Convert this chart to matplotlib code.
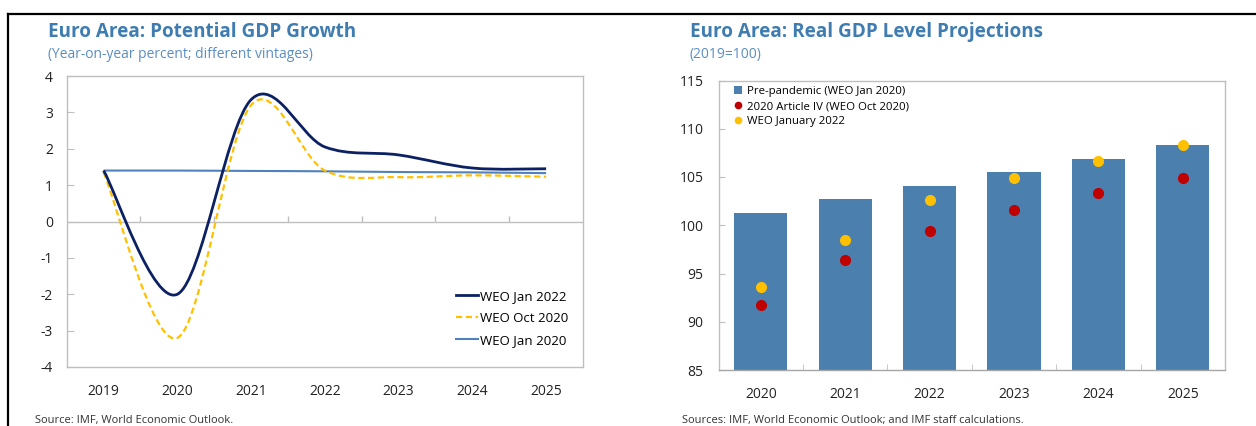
import numpy as np
import matplotlib
matplotlib.use('Agg')
import matplotlib.pyplot as plt
from matplotlib.path import Path
from matplotlib.patches import PathPatch, Patch
from matplotlib.lines import Line2D

plt.rcParams['font.family'] = ['Open Sans', 'DejaVu Sans']
plt.rcParams['axes.unicode_minus'] = False

# Left panel: potential GDP growth, annual values by vintage
growth_years = [2019, 2020, 2021, 2022, 2023, 2024, 2025]
weo_jan_2022 = [1.4, -2.0, 3.35, 2.05, 1.83, 1.47, 1.45]
weo_oct_2020 = [1.35, -3.2, 3.2, 1.4, 1.22, 1.27, 1.23]
weo_jan_2020 = [1.4, 1.4, 1.39, 1.38, 1.36, 1.35, 1.33]

# Right panel: real GDP level (2019=100)
level_years = [2020, 2021, 2022, 2023, 2024, 2025]
pre_pandemic = [101.3, 102.7, 104.1, 105.5, 106.9, 108.3]
article_iv_2020 = [91.7, 96.4, 99.4, 101.6, 103.35, 104.85]
weo_jan_2022_level = [93.6, 98.5, 102.6, 104.9, 106.7, 108.3]

TITLE_C = '#3E7CB1'
SUB_C = '#5A8DC2'
FRAME_C = '#BFBFBF'
NAVY = '#0B2163'
GOLD = '#FFC000'
BLUE = '#4F81BD'
BAR_C = '#4A7FAE'
RED = '#C00000'


def smooth_path(x, y):
    """Excel-style smoothed line as cubic Bezier segments through the data."""
    n = len(x)
    verts = [(x[0], y[0])]
    codes = [Path.MOVETO]
    for i in range(n - 1):
        a = i - 1 if i > 0 else i
        d = i + 2 if i + 2 < n else i + 1
        c1 = (x[i] + (x[i + 1] - x[a]) / 6, y[i] + (y[i + 1] - y[a]) / 6)
        c2 = (x[i + 1] - (x[d] - x[i]) / 6, y[i + 1] - (y[d] - y[i]) / 6)
        verts += [c1, c2, (x[i + 1], y[i + 1])]
        codes += [Path.CURVE4] * 3
    return Path(verts, codes)


fig = plt.figure(figsize=(12.56, 4.26), dpi=100)
W, H = 1256, 426

# outer frame lines
fig.add_artist(Line2D([8 / W, 1], [1 - 13.5 / H, 1 - 13.5 / H], color='black', lw=1.6, transform=fig.transFigure))
fig.add_artist(Line2D([8 / W, 8 / W], [0, 1 - 13.5 / H], color='black', lw=1.6, transform=fig.transFigure))

# ---------------- left panel ----------------
ax1 = fig.add_axes([66.7 / W, 1 - 367 / H, (583 - 66.7) / W, (367 - 76) / H])
xs = np.arange(len(growth_years))
styles = [
    (weo_jan_2022, NAVY, '-', 2.0, 'WEO Jan 2022'),
    (weo_oct_2020, GOLD, (0, (2.8, 1.6)), 1.6, 'WEO Oct 2020'),
    (weo_jan_2020, BLUE, '-', 1.5, 'WEO Jan 2020'),
]
handles = []
for vals, col, ls, lw, lab in styles[::-1]:
    ax1.add_patch(PathPatch(smooth_path(xs, vals), fill=False, edgecolor=col, lw=lw, linestyle=ls,
                            capstyle='butt', joinstyle='round'))
for vals, col, ls, lw, lab in styles:
    handles.append(Line2D([], [], color=col, lw=lw, linestyle=ls, label=lab))

ax1.axhline(0, color=FRAME_C, lw=1, zorder=0)
ax1.vlines(np.arange(len(growth_years) - 1) + 0.5, 0, 0.15, color=FRAME_C, lw=1, zorder=0)
ax1.set_xlim(-0.5, len(growth_years) - 0.5)
ax1.set_ylim(-4, 4)
ax1.set_yticks(range(-4, 5))
ax1.set_xticks(xs)
ax1.set_xticklabels([str(y) for y in growth_years])
ax1.tick_params(axis='x', length=0, pad=12, labelsize=10, labelcolor='#222222')
ax1.tick_params(axis='y', direction='in', length=5, color=FRAME_C, pad=10, labelsize=10, labelcolor='#222222')
for s in ax1.spines.values():
    s.set_color(FRAME_C)
    s.set_linewidth(1)
ax1.legend(handles=handles, loc='upper left', bbox_to_anchor=(0.754, 0.266), frameon=False,
           fontsize=9.5, handlelength=1.7, handletextpad=0.15, borderpad=0, borderaxespad=0,
           labelspacing=0.7)

fig.text(48 / W, 1 - 37 / H, 'Euro Area: Potential GDP Growth', fontsize=13.6, fontweight='bold',
         color=TITLE_C, va='baseline')
fig.text(48 / W, 1 - 58 / H, '(Year-on-year percent; different vintages)', fontsize=10,
         color=SUB_C, va='baseline')
fig.text(35 / W, 1 - 423 / H, 'Source: IMF, World Economic Outlook.', fontsize=8,
         color='#333333', va='baseline')

# ---------------- right panel ----------------
ax2 = fig.add_axes([718.6 / W, 1 - 370 / H, (1225 - 718.6) / W, (370 - 80.5) / H])
xb = np.arange(len(level_years))
ax2.bar(xb, pre_pandemic, width=0.63, color=BAR_C, zorder=2, label='Pre-pandemic (WEO Jan 2020)')
ax2.plot(xb, article_iv_2020, 'o', color=RED, markersize=8, markeredgewidth=0, zorder=3)
ax2.plot(xb, weo_jan_2022_level, 'o', color=GOLD, markersize=8, markeredgewidth=0, zorder=3)
ax2.set_xlim(-0.5, len(level_years) - 0.5)
ax2.set_ylim(85, 115)
ax2.set_yticks(range(85, 116, 5))
ax2.set_xticks(xb)
ax2.set_xticklabels([str(y) for y in level_years])
ax2.set_xticks(np.arange(len(level_years) - 1) + 0.5, minor=True)
ax2.tick_params(axis='x', which='major', length=0, pad=12, labelsize=10, labelcolor='#222222')
ax2.tick_params(axis='x', which='minor', direction='in', length=4, color=FRAME_C)
ax2.tick_params(axis='y', direction='in', length=4, color=FRAME_C, pad=11, labelsize=10, labelcolor='#222222')
for s in ax2.spines.values():
    s.set_color(FRAME_C)
    s.set_linewidth(1)
ax2.spines['bottom'].set_color('#A6A6A6')

h2 = [Patch(facecolor=BAR_C, label='Pre-pandemic (WEO Jan 2020)'),
      Line2D([], [], marker='o', color=RED, linestyle='None', markersize=5.5, markeredgewidth=0,
             label='2020 Article IV (WEO Oct 2020)'),
      Line2D([], [], marker='o', color=GOLD, linestyle='None', markersize=5.5, markeredgewidth=0,
             label='WEO January 2022')]
ax2.legend(handles=h2, loc='upper left', bbox_to_anchor=(0.031, 0.98), frameon=False,
           fontsize=8.2, handlelength=0.7, handleheight=0.7, handletextpad=0.4, borderpad=0,
           borderaxespad=0, labelspacing=0.35)

fig.text(690 / W, 1 - 37 / H, 'Euro Area: Real GDP Level Projections', fontsize=13.6, fontweight='bold',
         color=TITLE_C, va='baseline')
fig.text(690 / W, 1 - 58 / H, '(2019=100)', fontsize=10, color=SUB_C, va='baseline')
fig.text(682 / W, 1 - 423 / H, 'Sources: IMF, World Economic Outlook; and IMF staff calculations.',
         fontsize=8, color='#333333', va='baseline')

fig.savefig('out.png', dpi=100)
